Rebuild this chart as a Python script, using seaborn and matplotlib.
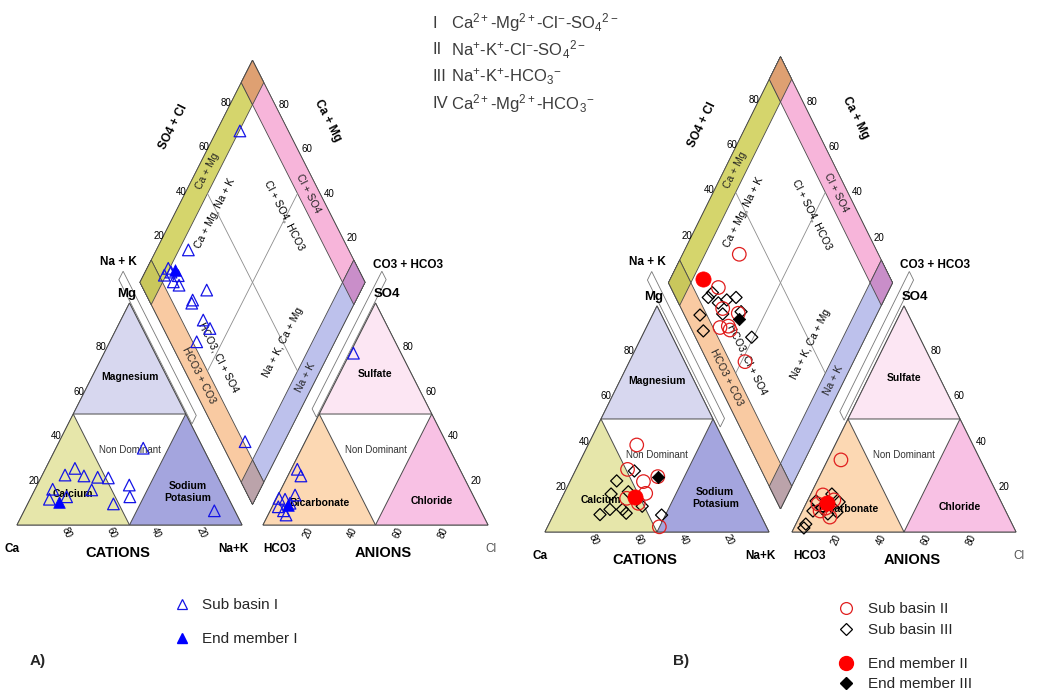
import numpy as np
import pandas as pd
import matplotlib
matplotlib.use("Agg")
import matplotlib.pyplot as plt
from matplotlib.patches import Polygon
from matplotlib.lines import Line2D
import seaborn as sns

# ---------------- data (percent of meq/L) ----------------
# Panel A : Sub basin I  (cation: Mg, Na+K ; anion: SO4, Cl ; diamond: Na+K, Cl+SO4)
A_SUB_CAT_MG = [25.5, 22.5, 22.1, 21.5, 21.2, 16.1, 15.8, 11.6, 12.7, 18.0, 12.7, 9.5, 34.6, 6.4]
A_SUB_CAT_NAK = [13.0, 10.1, 18.7, 25.1, 30.0, 7.8, 25.3, 8.6, 15.7, 40.9, 43.8, 38.1, 38.8, 84.5]
A_SUB_AN_SO4 = [77.4, 25.1, 22.1, 13.5, 12.0, 11.6, 8.2, 6.4, 4.5, 9.8]
A_SUB_AN_CL = [1.5, 2.7, 5.8, 7.5, 1.1, 4.0, 2.7, 5.9, 8.0, 7.1]
A_SUB_DIA_NAK = [10.3, 14.2, 9.4, 9.2, 15.5, 14.7, 18.0, 31.4, 27.4, 27.7, 36.6, 41.5, 38.6, 82.6, 11.5]
A_SUB_DIA_CLSO4 = [78.5, 28.8, 15.7, 12.4, 18.5, 14.9, 16.7, 27.9, 19.4, 18.3, 19.6, 20.7, 11.8, 10.8, 16.1]
A_END_CAT_MG, A_END_CAT_NAK = [10.2], [13.7]
A_END_AN_SO4, A_END_AN_CL = [9.0], [6.8]
A_END_DIA_NAK, A_END_DIA_CLSO4 = [12.8], [18.3]

# Panel B : Sub basin II (circles), Sub basin III (diamonds)
B_II_CAT_MG = [38.5, 27.7, 22.3, 24.5, 17.1, 14.9, 12.7, 2.3]
B_II_CAT_NAK = [21.7, 23.0, 32.8, 38.1, 36.4, 29.0, 35.3, 49.9]
B_III_CAT_MG = [27.0, 22.6, 17.8, 16.8, 11.4, 10.0, 10.0, 7.7, 8.3, 7.5]
B_III_CAT_NAK = [26.4, 20.7, 28.3, 21.1, 37.7, 29.6, 24.0, 20.7, 32.1, 48.3]
B_II_AN_SO4 = [31.9, 16.4, 12.4, 9.3, 6.6, 14.2, 10.6]
B_II_AN_CL = [5.9, 5.6, 5.4, 7.9, 13.6, 11.6, 9.8]
B_III_AN_SO4 = [13.7, 16.8, 13.3, 9.3, 8.8, 8.0, 3.5, 1.8, 10.6]
B_III_AN_CL = [3.9, 9.4, 14.4, 4.7, 15.7, 12.0, 4.4, 4.4, 8.1]
B_II_DIA_NAK = [25.3, 23.3, 29.9, 37.9, 32.9, 36.3, 37.9, 51.6]
B_II_DIA_CLSO4 = [37.9, 21.2, 18.5, 24.4, 13.1, 17.1, 17.0, 16.7]
B_III_DIA_NAK = [21.0, 21.8, 29.8, 33.4, 26.7, 31.1, 38.8, 21.2, 26.2, 49.2]
B_III_DIA_CLSO4 = [14.5, 17.4, 22.2, 26.9, 17.8, 17.3, 26.0, 6.9, 4.9, 25.1]
B_ENDII_CAT_MG, B_ENDII_CAT_NAK = [15.4], [32.7]
B_ENDII_AN_SO4, B_ENDII_AN_CL = [13.0], [9.1]
B_ENDII_DIA_NAK, B_ENDII_DIA_CLSO4 = [14.5], [16.0]
B_ENDIII_CAT_MG, B_ENDIII_CAT_NAK = [24.3], [38.1]
B_ENDIII_DIA_NAK, B_ENDIII_DIA_CLSO4 = [39.7], [23.6]

TICKS = [20, 40, 60, 80]
WATER_TYPES = [("I", r"Ca$^{2+}$-Mg$^{2+}$-Cl$^{-}$-SO$_4$$^{2-}$"),
               ("II", r"Na$^{+}$-K$^{+}$-Cl$^{-}$-SO$_4$$^{2-}$"),
               ("III", r"Na$^{+}$-K$^{+}$-HCO$_3$$^{-}$"),
               ("IV", r"Ca$^{2+}$-Mg$^{2+}$-HCO$_3$$^{-}$")]

# ---------------- style ----------------
W, H = 1047, 697
sns.set_style("white")
plt.rcParams['font.family'] = ['Liberation Sans', 'DejaVu Sans']
plt.rcParams['mathtext.fontset'] = 'custom'
plt.rcParams['mathtext.rm'] = 'Liberation Sans'
plt.rcParams['mathtext.it'] = 'Liberation Sans:italic'
plt.rcParams['mathtext.bf'] = 'Liberation Sans:bold'

HT = np.sqrt(3) / 2
EDGE = '#4a4a4a'
C_MG, C_CA, C_NAK = '#d7d7ef', '#e6e6aa', '#a4a5de'
C_SO4, C_HCO3, C_CL = '#fce6f3', '#fcd8b3', '#f8c1e4'
B_CAMG, B_CLSO4, B_NAK, B_HCO3 = '#d5d56c', '#f7b5da', '#bdc1ec', '#f9caa2'
K_TOP, K_LEFT, K_RIGHT, K_BOT = '#dea072', '#c9c75c', '#c98ec9', '#bba3aa'

fig = plt.figure(figsize=(W / 100, H / 100), dpi=100)


def P(x, y):
    return (x / W, 1 - y / H)


def cat_xy(mg, nak):
    m, n = np.asarray(mg) / 100, np.asarray(nak) / 100
    return n + 0.5 * m, HT * m


def an_xy(so4, cl, g):
    s, c = np.asarray(so4) / 100, np.asarray(cl) / 100
    return 1 + g + c + 0.5 * s, HT * s


def dia_xy(nak, clso4, g):
    a, b = np.asarray(nak) / 100, np.asarray(clso4) / 100
    Lx, Ly = 0.5 + g / 2, HT * (1 + g)
    return Lx + 0.5 * (a + b), Ly + HT * (b - a)


def make_ax(x0, y0, sx, sv):
    ax = fig.add_axes([0, 0, 1, 1])
    ax.set_xlim(-x0 / sx, (W - x0) / sx)
    ax.set_ylim((y0 - H) / sv, y0 / sv)
    ax.axis('off')
    ax.patch.set_alpha(0)
    return ax


def T(ax, x, y, s, dx=0, dy=0, size=8, weight='normal', rot=0, ha='center', va='center', color='black'):
    ax.annotate(s, (x, y), xytext=(dx * 0.72, -dy * 0.72), textcoords='offset points',
                ha=ha, va=va, fontsize=size, fontweight=weight, rotation=rot,
                color=color, rotation_mode='anchor', zorder=3)


def draw_panel(ax, g, sx, sv):
    ang = np.degrees(np.arctan2(HT * sv, 0.5 * sx))
    ox = 1 + g

    def poly(pts, fc, ec=EDGE, lw=0.7, z=1):
        ax.add_patch(Polygon(pts, closed=True, facecolor=fc, edgecolor=ec, lw=lw, zorder=z))

    # cation triangle
    poly([(0, 0), (1, 0), (0.5, HT)], 'white')
    poly([(0.25, HT / 2), (0.75, HT / 2), (0.5, HT)], C_MG)
    poly([(0, 0), (0.5, 0), (0.25, HT / 2)], C_CA)
    poly([(0.5, 0), (1, 0), (0.75, HT / 2)], C_NAK)
    # anion triangle
    poly([(ox, 0), (ox + 1, 0), (ox + 0.5, HT)], 'white')
    poly([(ox + 0.25, HT / 2), (ox + 0.75, HT / 2), (ox + 0.5, HT)], C_SO4)
    poly([(ox, 0), (ox + 0.5, 0), (ox + 0.25, HT / 2)], C_HCO3)
    poly([(ox + 0.5, 0), (ox + 1, 0), (ox + 0.75, HT / 2)], C_CL)

    def D(a, b):
        x, y = dia_xy(a * 100, b * 100, g)
        return (float(x), float(y))

    def cell(a0, a1, b0, b1, fc):
        poly([D(a0, b0), D(a0, b1), D(a1, b1), D(a1, b0)], fc, lw=0.6)

    poly([D(0, 0), D(0, 1), D(1, 1), D(1, 0)], 'white')
    cell(0, .1, 0, 1, B_CAMG)
    cell(0, 1, .9, 1, B_CLSO4)
    cell(.9, 1, 0, 1, B_NAK)
    cell(0, 1, 0, .1, B_HCO3)
    cell(0, .1, .9, 1, K_TOP)
    cell(0, .1, 0, .1, K_LEFT)
    cell(.9, 1, .9, 1, K_RIGHT)
    cell(.9, 1, 0, .1, K_BOT)
    for p, q in [(D(.1, .5), D(.9, .5)), (D(.5, .1), D(.5, .9))]:
        ax.plot([p[0], q[0]], [p[1], q[1]], color='#8c8c8c', lw=0.6, zorder=2)
    # thin empty axis strips
    poly([D(-0.1, -0.05), D(0.55, -0.05), D(0.55, -0.088), D(-0.1, -0.088)], 'white', ec='#777', lw=0.6)
    poly([D(1.05, 1.1), D(1.05, 0.48), D(1.088, 0.48), D(1.088, 1.1)], 'white', ec='#777', lw=0.6)

    # tick labels
    for t in TICKS:
        x, y = cat_xy(t, 0)
        T(ax, x, y, str(t), dx=-6, size=7)
        x, y = an_xy(t, 100 - t, g)
        T(ax, x, y, str(t), dx=10, size=7)
        x, y = cat_xy(0, 100 - t)
        T(ax, x, y, str(t), dx=2, dy=3, size=7, rot=-65, ha='left', va='center')
        x, y = an_xy(0, t, g)
        T(ax, x, y, str(t), dx=2, dy=3, size=7, rot=65, ha='right', va='center')
        x, y = D(0, t / 100)
        T(ax, x, y, str(t), dx=-4, dy=-2, size=7)
        x, y = D(1 - t / 100, 1)
        T(ax, x, y, str(t), dx=9, size=7)

    # corner / axis titles
    T(ax, 0.5, HT, 'Mg', dx=-3, dy=-9, size=9.5, weight='bold')
    T(ax, ox + 0.5, HT, 'SO4', dx=11, dy=-9, size=9.5, weight='bold')
    T(ax, 0, 0, 'Ca', dx=-5, dy=24, size=8.5, weight='bold')
    T(ax, 1, 0, 'Na+K', dx=-9, dy=24, size=8.5, weight='bold')
    T(ax, 0.5, 0, 'CATIONS', dx=-12, dy=28, size=10.5, weight='bold')
    T(ax, ox, 0, 'HCO3', dx=17, dy=24, size=8.5, weight='bold')
    T(ax, ox + 0.5, 0, 'ANIONS', dx=8, dy=28, size=10.5, weight='bold')
    T(ax, ox + 1, 0, 'Cl', dx=3, dy=24, size=8.5, color='#555555')
    x, y = D(-0.14, -0.05)
    T(ax, x, y, 'Na + K', size=8.5, weight='bold')
    x, y = D(1.15, 1.23)
    T(ax, x, y, 'CO3 + HCO3', size=8.5, weight='bold')
    x, y = D(-0.2, 0.5)
    T(ax, x, y, 'SO4 + Cl', size=8.5, weight='bold', rot=ang)
    x, y = D(0.47, 1.2)
    T(ax, x, y, 'Ca + Mg', size=8.5, weight='bold', rot=-ang)

    # band labels
    for (a, b, s, r) in [(0.05, 0.55, 'Ca + Mg', ang), (0.55, 0.95, 'Cl + SO4', -ang),
                         (0.95, 0.52, 'Na + K', ang), (0.47, 0.05, 'HCO3 + CO3', -ang)]:
        x, y = D(a, b)
        T(ax, x, y, s, size=7.5, rot=r, color='#222222')
    # field labels inside diamond
    for (a, b, s, r) in [(0.18, 0.49, 'Ca + Mg, Na + K', ang), (0.49, 0.79, 'Cl + SO4, HCO3', -ang),
                         (0.52, 0.18, 'HCO3, Cl + SO4', -ang), (0.77, 0.50, 'Na + K, Ca + Mg', ang)]:
        x, y = D(a, b)
        T(ax, x, y, s, size=7.5, rot=r)

    # region labels
    T(ax, 0.5, HT * 2 / 3, 'Magnesium', size=7.5, weight='bold')
    T(ax, 0.5, HT * 0.34, 'Non Dominant', size=7, color='#333333')
    T(ax, 0.25, HT * 0.14, 'Calcium', size=7.5, weight='bold')
    T(ax, 0.76, HT * 0.15, 'Sodium\nPotasium', size=7.5, weight='bold')
    T(ax, ox + 0.5, HT * 0.68, 'Sulfate', size=7.5, weight='bold')
    T(ax, ox + 0.5, HT * 0.34, 'Non Dominant', size=7, color='#333333')
    T(ax, ox + 0.25, HT * 0.1, 'Bicarbonate', size=7.5, weight='bold')
    T(ax, ox + 0.75, HT * 0.11, 'Chloride', size=7.5, weight='bold')


def frame(xs, ys):
    return pd.DataFrame({'x': np.concatenate(xs), 'y': np.concatenate(ys)})


def pts(g, cat, an, dia):
    xs, ys = [], []
    if cat is not None:
        x, y = cat_xy(*cat); xs.append(x); ys.append(y)
    if an is not None:
        x, y = an_xy(*an, g); xs.append(x); ys.append(y)
    if dia is not None:
        x, y = dia_xy(*dia, g); xs.append(x); ys.append(y)
    return frame(xs, ys)


# ---------------- Panel A ----------------
gA = 21 / 225
axA = make_ax(17, 525, 225, 256.3)
draw_panel(axA, gA, 225, 256.3)
dfA = pts(gA, (A_SUB_CAT_MG, A_SUB_CAT_NAK), (A_SUB_AN_SO4, A_SUB_AN_CL), (A_SUB_DIA_NAK, A_SUB_DIA_CLSO4))
sns.scatterplot(data=dfA, x='x', y='y', ax=axA, marker='^', s=70, facecolor='none',
                edgecolor='#1414e6', linewidth=0.9, zorder=5, legend=False)
dfAe = pts(gA, (A_END_CAT_MG, A_END_CAT_NAK), (A_END_AN_SO4, A_END_AN_CL), (A_END_DIA_NAK, A_END_DIA_CLSO4))
sns.scatterplot(data=dfAe, x='x', y='y', ax=axA, marker='^', s=70, color='#0000ff',
                edgecolor='#0000ff', linewidth=0.5, zorder=6, legend=False)

# ---------------- Panel B ----------------
gB = 23 / 224
axB = make_ax(545, 532, 224, 261.0)
draw_panel(axB, gB, 224, 261.0)
dfB2 = pts(gB, (B_II_CAT_MG, B_II_CAT_NAK), (B_II_AN_SO4, B_II_AN_CL), (B_II_DIA_NAK, B_II_DIA_CLSO4))
dfB3 = pts(gB, (B_III_CAT_MG, B_III_CAT_NAK), (B_III_AN_SO4, B_III_AN_CL), (B_III_DIA_NAK, B_III_DIA_CLSO4))
sns.scatterplot(data=dfB3, x='x', y='y', ax=axB, marker='D', s=38, facecolor='none',
                edgecolor='black', linewidth=0.9, zorder=5, legend=False)
sns.scatterplot(data=dfB2, x='x', y='y', ax=axB, marker='o', s=95, facecolor='none',
                edgecolor='#e01e1e', linewidth=0.9, zorder=5, legend=False)
dfB2e = pts(gB, (B_ENDII_CAT_MG, B_ENDII_CAT_NAK), (B_ENDII_AN_SO4, B_ENDII_AN_CL), (B_ENDII_DIA_NAK, B_ENDII_DIA_CLSO4))
dfB3e = pts(gB, (B_ENDIII_CAT_MG, B_ENDIII_CAT_NAK), None, (B_ENDIII_DIA_NAK, B_ENDIII_DIA_CLSO4))
sns.scatterplot(data=dfB2e, x='x', y='y', ax=axB, marker='o', s=120, color='#ff0000',
                edgecolor='#ff0000', linewidth=0.5, zorder=6, legend=False)
sns.scatterplot(data=dfB3e, x='x', y='y', ax=axB, marker='D', s=40, color='black',
                edgecolor='black', linewidth=0.5, zorder=6, legend=False)

# ---------------- water type key ----------------
for i, (num, form) in enumerate(WATER_TYPES):
    y = 23 + i * 26.7
    fig.text(*P(432, y), num, fontsize=12, color='#3c3c3c', ha='left', va='center')
    fig.text(*P(451, y), form, fontsize=12, color='#3c3c3c', ha='left', va='center')

fig.text(*P(30, 661), 'A)', fontsize=11, fontweight='bold', ha='left', va='center')
fig.text(*P(673, 661), 'B)', fontsize=11, fontweight='bold', ha='left', va='center')

# ---------------- legends ----------------
hA = [Line2D([], [], ls='none', marker='^', ms=7, mfc='none', mec='#1414e6', mew=0.9),
      Line2D([], [], ls='none', marker='^', ms=7, mfc='#0000ff', mec='#0000ff')]
fig.legend(hA, ['Sub basin I', 'End member I'], loc='upper left', bbox_to_anchor=P(173, 598),
           frameon=False, fontsize=11, handlelength=1.2, handletextpad=0.71, labelspacing=1.33,
           borderpad=0, borderaxespad=0)
hB1 = [Line2D([], [], ls='none', marker='o', ms=8.5, mfc='none', mec='#e01e1e', mew=0.9),
       Line2D([], [], ls='none', marker='D', ms=6, mfc='none', mec='black', mew=0.9)]
fig.legend(hB1, ['Sub basin II', 'Sub basin III'], loc='upper left', bbox_to_anchor=P(837, 602),
           frameon=False, fontsize=11, handlelength=1.2, handletextpad=0.84, labelspacing=0.46,
           borderpad=0, borderaxespad=0)
hB2 = [Line2D([], [], ls='none', marker='o', ms=10, mfc='#ff0000', mec='#ff0000'),
       Line2D([], [], ls='none', marker='D', ms=6, mfc='black', mec='black')]
fig.legend(hB2, ['End member II', 'End member III'], loc='upper left', bbox_to_anchor=P(837, 657),
           frameon=False, fontsize=11, handlelength=1.2, handletextpad=0.84, labelspacing=0.4,
           borderpad=0, borderaxespad=0)

fig.savefig('out.png', dpi=100, facecolor='white')
